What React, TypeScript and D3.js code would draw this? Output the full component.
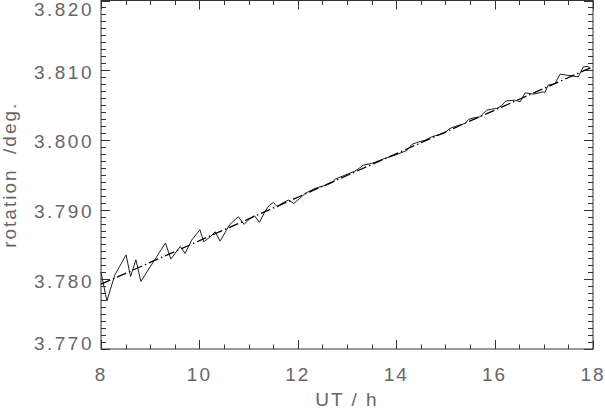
import React from "react";
import * as d3 from "d3";

const hours = [
  8.0, 8.12, 8.28, 8.51, 8.6, 8.71, 8.81, 9.31, 9.42, 9.61, 9.71, 9.84, 10.01,
  10.09, 10.22, 10.32, 10.42, 10.55, 10.62, 10.79, 10.91, 10.99, 11.12, 11.22,
  11.33, 11.41, 11.5, 11.59, 11.67, 11.81, 11.92, 12.04, 12.15, 12.35, 12.62,
  12.72, 12.76, 12.96, 13.16, 13.26, 13.33, 13.5, 13.77, 13.98, 14.18, 14.21,
  14.32, 14.42, 14.59, 14.72, 14.99, 15.09, 15.23, 15.4, 15.47, 15.57, 15.7,
  15.77, 15.84, 15.94, 16.04, 16.14, 16.21, 16.25, 16.41, 16.52, 16.62, 16.79,
  16.99, 17.02, 17.09, 17.23, 17.33, 17.57, 17.7, 17.8, 17.9, 17.94,
];
const rotation = [
  3.781, 3.7769, 3.7806, 3.7835, 3.7804, 3.7828, 3.7797, 3.7852, 3.7829,
  3.7847, 3.7837, 3.7856, 3.7871, 3.78538, 3.7861, 3.78682, 3.78548, 3.78706,
  3.78788, 3.78897, 3.78788, 3.78849, 3.78911, 3.78817, 3.78968, 3.79054,
  3.79103, 3.7904, 3.79089, 3.79136, 3.79089, 3.79161, 3.79232, 3.79304,
  3.79361, 3.79399, 3.79437, 3.79495, 3.79552, 3.79599, 3.79638, 3.79662,
  3.79734, 3.79781, 3.79839, 3.79843, 3.79935, 3.79963, 3.79996, 3.80044,
  3.80101, 3.80164, 3.80201, 3.80236, 3.80293, 3.80316, 3.8033, 3.80379,
  3.80427, 3.80441, 3.80451, 3.80488, 3.80546, 3.8056, 3.8057, 3.80546,
  3.80675, 3.80656, 3.80689, 3.80675, 3.80785, 3.80809, 3.80943, 3.80918,
  3.80904, 3.81047, 3.81057, 3.81024,
];
const fitHours = [8, 18];
const fitValues = [3.7793, 3.8105];

const xTicks = [8, 10, 12, 14, 16, 18];
const xTickLabels = ["8", "10", "12", "14", "16", "18"];
const yTicks = [3.77, 3.78, 3.79, 3.8, 3.81, 3.82];
const yTickLabels = ["3.770", "3.780", "3.790", "3.800", "3.810", "3.820"];
const xTitle = "UT / h";
const yTitle = "rotation  /deg.";

const W = 605;
const H = 414;
const L = 101;
const R = 593;
const T = 0.5;
const B = 349;

const FONT = "'Liberation Sans', Arial, sans-serif";
const TEXT_COLOR = "#666";
const AXIS_COLOR = "#333";

export default function App() {
  const x = d3.scaleLinear().domain([8, 18]).range([L, R]);
  const y = d3.scaleLinear().domain([3.77, 3.82]).range([B, T]);

  const xMinor = d3.range(8, 18.0001, 0.5);
  const yMinor = d3.range(0, 51).map((i) => 3.77 + i * 0.001);

  const line = d3
    .line<number>()
    .x((_, i) => x(hours[i]))
    .y((d) => y(d));
  const fitLine = d3
    .line<number>()
    .x((_, i) => x(fitHours[i]))
    .y((d) => y(d));

  const yLabelOffset = (i: number) =>
    i === 0 ? -6 : i === yTicks.length - 1 ? 8 : 1.5;

  return (
    <svg
      width={W}
      height={H}
      style={{ position: "absolute", left: 0, top: 0, background: "#fff" }}
    >
      <rect x={0} y={0} width={W} height={H} fill="#fff" />
      <rect
        x={L}
        y={T}
        width={R - L}
        height={B - T}
        fill="none"
        stroke={AXIS_COLOR}
        strokeWidth={1}
      />
      {xMinor.map((v, i) => {
        const major = Math.abs(v - Math.round(v / 2) * 2) < 1e-6;
        const len = major ? 9 : 4.5;
        const px = Math.round(x(v)) + 0.5;
        return (
          <g key={"xt" + i} stroke={AXIS_COLOR} strokeWidth={1}>
            <line x1={px} x2={px} y1={B} y2={B - len} />
            <line x1={px} x2={px} y1={T} y2={T + len} />
          </g>
        );
      })}
      {yMinor.map((v, i) => {
        const major = i % 10 === 0;
        const len = major ? 9 : 5;
        const py = Math.round(y(v)) + 0.5;
        return (
          <g key={"yt" + i} stroke={AXIS_COLOR} strokeWidth={1}>
            <line x1={L} x2={L + len} y1={py} y2={py} />
            <line x1={R} x2={R - len} y1={py} y2={py} />
          </g>
        );
      })}
      {xTicks.map((v, i) => (
        <text
          key={"xl" + i}
          x={x(v)}
          y={381}
          textAnchor="middle"
          fontFamily={FONT}
          fontSize={19}
          fill={TEXT_COLOR}
          letterSpacing={2}
        >
          {xTickLabels[i]}
        </text>
      ))}
      {yTicks.map((v, i) => (
        <text
          key={"yl" + i}
          x={94}
          y={y(v) + yLabelOffset(i) + 7}
          textAnchor="end"
          fontFamily={FONT}
          fontSize={19}
          fill={TEXT_COLOR}
          letterSpacing={2.5}
        >
          {yTickLabels[i]}
        </text>
      ))}
      <text
        x={(L + R) / 2}
        y={406}
        textAnchor="middle"
        fontFamily={FONT}
        fontSize={19}
        fill={TEXT_COLOR}
        letterSpacing={2}
        style={{ whiteSpace: "pre" }}
      >
        {xTitle}
      </text>
      <text
        transform={`translate(16,${(B + T) / 2}) rotate(-90)`}
        textAnchor="middle"
        fontFamily={FONT}
        fontSize={19}
        fill={TEXT_COLOR}
        letterSpacing={2}
        style={{ whiteSpace: "pre" }}
      >
        {yTitle}
      </text>
      <path
        d={line(rotation) || ""}
        fill="none"
        stroke="#222"
        strokeWidth={1}
        strokeLinejoin="miter"
      />
      <path
        d={fitLine(fitValues) || ""}
        fill="none"
        stroke="#000"
        strokeWidth={1.3}
        strokeDasharray="10,3,1.5,3"
      />
    </svg>
  );
}
